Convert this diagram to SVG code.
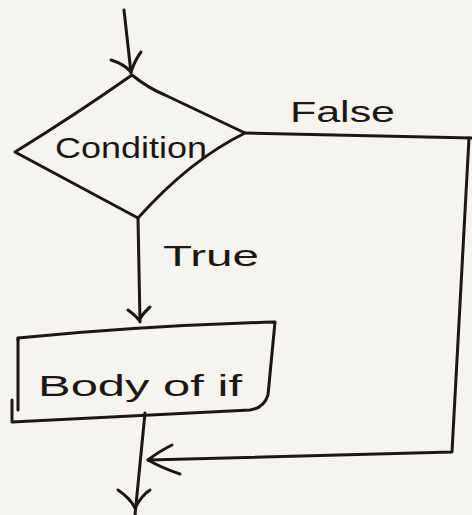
<svg xmlns="http://www.w3.org/2000/svg" width="472" height="515" viewBox="0 0 472 515">
  <defs>
    <style>
      .ink { fill: none; stroke: #1c1712; stroke-width: 3; stroke-linecap: round; stroke-linejoin: round; }
      .lbl { fill: #1c1712; font-family: "Liberation Sans", "DejaVu Sans", sans-serif; font-size: 30px; }
    </style>
  </defs>

  <!-- paper -->
  <rect x="0" y="0" width="472" height="515" fill="#f6f4ee"/>

  <!-- decision node -->
  <g id="condition">
    <path class="ink" d="M132,75 Q148,88 165,95 L245,133 Q190,160 138,218 Q95,195 15,152 Q75,115 132,75 Z"/>
    <text class="lbl" x="55" y="158" textLength="152" lengthAdjust="spacingAndGlyphs">Condition</text>
  </g>

  <!-- process node -->
  <g id="body">
    <path class="ink" d="M18,340 L18,338 Q140,326 275,322 L268,395 Q264,408 250,410 L12,422 L12,400"/>
    <path class="ink" d="M18,338 L18,410"/>
    <text class="lbl" x="38" y="396" textLength="204" lengthAdjust="spacingAndGlyphs">Body of if</text>
  </g>

  <!-- connectors -->
  <g id="connectors">
    <!-- entry -->
    <path class="ink" d="M124,10 L131,73"/>
    <path class="ink" d="M111,60 Q124,64 131,72 Q135,60 141,52"/>
    <!-- true branch -->
    <path class="ink" d="M138,218 L140,322"/>
    <path class="ink" d="M128,310 Q136,316 139,320 Q143,313 150,307"/>
    <!-- false branch -->
    <path class="ink" d="M245,133 L472,138"/>
    <path class="ink" d="M469,138 L452,452 L148,460"/>
    <path class="ink" d="M172,445 Q158,452 148,460 Q162,468 180,474"/>
    <!-- exit -->
    <path class="ink" d="M145,413 L135,515"/>
    <path class="ink" d="M118,490 Q130,498 135,508 Q142,495 150,490"/>
  </g>

  <!-- branch labels -->
  <text class="lbl" x="290" y="122" textLength="105" lengthAdjust="spacingAndGlyphs">False</text>
  <text class="lbl" x="163" y="266" textLength="96" lengthAdjust="spacingAndGlyphs">True</text>
</svg>
